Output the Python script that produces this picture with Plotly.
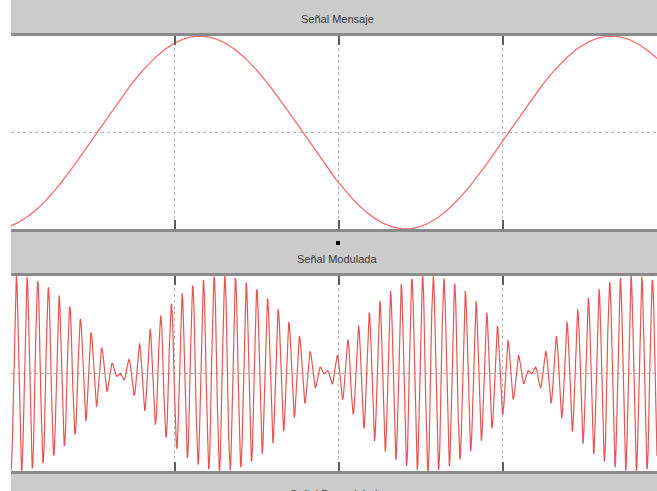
import numpy as np
import plotly.graph_objects as go

# Signal parameters (time in scope divisions)
t_end = 3.94
msg_period = 2.51        # period of the message tone
msg_peak_time = 1.152    # time of the first message maximum
mod_null_time = 0.660    # first envelope null of the modulated signal
carrier_period = 0.0652  # carrier period
amplitude = 1.0

n_samples = 8000
t = np.linspace(0.0, t_end, n_samples)
message = amplitude * np.cos(2 * np.pi * (t - msg_peak_time) / msg_period)
envelope = np.sin(2 * np.pi * (t - mod_null_time) / msg_period)
modulated = amplitude * envelope * np.cos(2 * np.pi * t / carrier_period)

panel_titles = ["Señal Mensaje", "Señal Modulada", "Señal Demodulada"]
x_ticks = [0, 1, 2, 3]

W, H = 657, 491


def fx(px):
    return px / W


def fy(py):
    return 1 - py / H


bar_color = "#cbcbcb"
edge_color = "#8a8a8a"

fig = go.Figure()
fig.add_trace(go.Scatter(x=t, y=message, mode="lines", xaxis="x", yaxis="y",
                         line=dict(color="rgb(240,112,112)", width=1.3),
                         hoverinfo="skip"))
fig.add_trace(go.Scatter(x=t, y=modulated, mode="lines", xaxis="x2", yaxis="y2",
                         line=dict(color="rgb(234,84,84)", width=1.2),
                         hoverinfo="skip"))

x_common = dict(range=[0, t_end], tickvals=x_ticks, showticklabels=False,
                showgrid=True, gridcolor="#b4b4b4", griddash="dot", gridwidth=1,
                zeroline=False, showline=True, linecolor=edge_color, linewidth=3,
                mirror="ticks", ticks="inside", ticklen=9, tickwidth=1.6,
                tickcolor="#5e5e5e", domain=[fx(11), 1])
y_common = dict(range=[-1, 1], tickvals=[0], showticklabels=False, ticks="",
                showgrid=True, gridcolor="#b4b4b4", griddash="dot", gridwidth=1,
                zeroline=False, showline=False)

fig.update_layout(
    width=W, height=H,
    margin=dict(l=0, r=0, t=0, b=0),
    paper_bgcolor="white", plot_bgcolor="white",
    showlegend=False,
    xaxis=dict(**x_common, anchor="y"),
    yaxis=dict(**y_common, domain=[fy(229), fy(36)], anchor="x"),
    xaxis2=dict(**x_common, anchor="y2"),
    yaxis2=dict(**y_common, domain=[fy(471), fy(276)], anchor="x2"),
)

# Gray title bars
for y0, y1 in [(0, 33), (229, 275), (472, 491)]:
    fig.add_shape(type="rect", xref="paper", yref="paper",
                  x0=fx(11), x1=1, y0=fy(y1), y1=fy(y0),
                  fillcolor=bar_color, line=dict(width=0), layer="below")

# Panel titles
for title, py in zip(panel_titles, [19, 259, 494]):
    fig.add_annotation(text=title, xref="paper", yref="paper",
                       x=fx(337), y=fy(py), showarrow=False,
                       xanchor="center", yanchor="middle",
                       font=dict(family="Liberation Sans, Arial, sans-serif",
                                 size=11, color="#3a3a3a"))

# Small black marker above the second title
fig.add_shape(type="rect", xref="paper", yref="paper",
              x0=fx(336), x1=fx(340), y0=fy(245), y1=fy(241),
              fillcolor="black", line=dict(width=0))

fig.write_html("out.html")
